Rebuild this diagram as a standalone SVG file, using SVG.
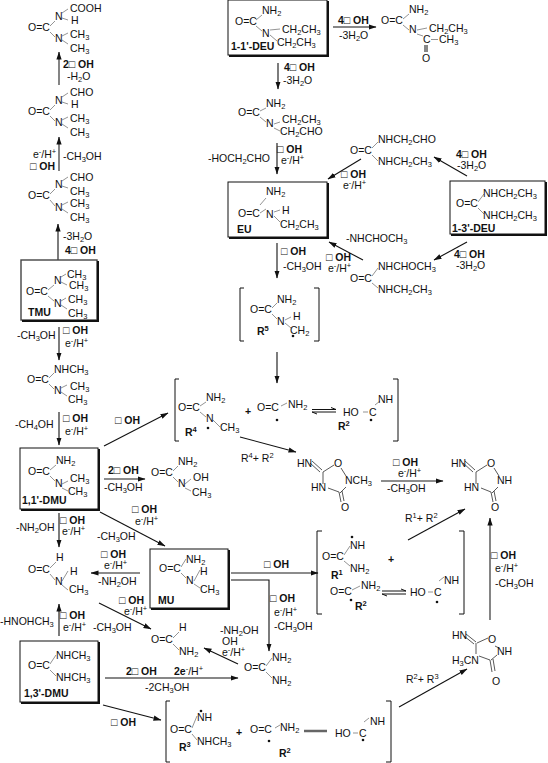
<svg xmlns="http://www.w3.org/2000/svg" width="548" height="763" viewBox="0 0 548 763">
<style>
text{font-family:"Liberation Sans",Arial,sans-serif;font-size:10.5px;fill:#111}
.B{font-weight:bold}
.s{font-size:7.5px;baseline-shift:-2.2px}
.u{font-size:7.5px;baseline-shift:3.6px}
.b{fill:none;stroke:#666;stroke-width:.7}
.k{fill:none;stroke:#111;stroke-width:1}
.a{fill:none;stroke:#111;stroke-width:1.1;marker-end:url(#h)}
.g{fill:none;stroke:#666;stroke-width:1.6;marker-end:url(#h2)}
.e{fill:none;stroke:#111;stroke-width:1}
.box{fill:#fff;stroke:#111;stroke-width:1}
.sh{fill:none;stroke:#111;stroke-width:2}
.d{fill:#111}
</style>
<defs>
<marker id="h" markerUnits="userSpaceOnUse" markerWidth="8" markerHeight="6" refX="7.5" refY="3" orient="auto"><path d="M0 .4L8 3L0 5.6z" fill="#111"/></marker>
<marker id="h2" markerUnits="userSpaceOnUse" markerWidth="8" markerHeight="6" refX="7.5" refY="3" orient="auto"><path d="M0 .4L8 3L0 5.6z" fill="#111"/></marker>
</defs>

<g id="connectors">
<path class="g" d="M59 85V52"/>
<path class="g" d="M59 171V137"/>
<path class="a" d="M58 260V224"/>
<path class="a" d="M59 327V360"/>
<path class="a" d="M59 412V445"/>
<path class="a" d="M104 446L168 413"/>
<path class="g" d="M104 479H145"/>
<path class="a" d="M100 512L165 546"/>
<path class="a" d="M59 513V547"/>
<path class="g" d="M140 573H91"/>
<path class="a" d="M99 603L151 629"/>
<path class="a" d="M59 636V604"/>
<path class="a" d="M105 678H238"/>
<path class="a" d="M103 705L161 720"/>
<path class="g" d="M231 573H318"/>
<path class="a" d="M231 580H269V651"/>
<path class="a" d="M238 664L204 648"/>
<path class="a" d="M408 540L465 509"/>
<path class="g" d="M490 620V518"/>
<path class="a" d="M399 707L467 669"/>
<path class="a" d="M333 27H376"/>
<path class="a" d="M278 63V89"/>
<path class="a" d="M277 143V174"/>
<path class="a" d="M361 159L328 179"/>
<path class="a" d="M467 176L434 157"/>
<path class="a" d="M363 260L329 242"/>
<path class="a" d="M467 242L434 260"/>
<path class="a" d="M277 243V278"/>
<path class="a" d="M277 352V383"/>
<path class="a" d="M240 437L296 452"/>
<path class="g" d="M381 481H443"/>
<path class="e" d="M312 409.5H336L331 407.5M336 412H312L317 414"/>
<path class="e" d="M382 591H406L401 589M406 594H382L387 596"/>
<path fill="none" stroke="#666" stroke-width="2.5" d="M304 731H327"/>
</g>

<g id="labels">
<text x="63" y="68" class="B">2□ OH</text><text x="67" y="80">-H<tspan class="s">2</tspan>O</text>
<text x="33" y="158">e<tspan class="u">-</tspan>/H<tspan class="u">+</tspan></text><text x="30" y="170" class="B">□ OH</text><text x="63" y="160">-CH<tspan class="s">3</tspan>OH</text>
<text x="63" y="240">-3H<tspan class="s">2</tspan>O</text><text x="65" y="254" class="B">4□ OH</text>
<text x="17" y="339">-CH<tspan class="s">3</tspan>OH</text><text x="63" y="334" class="B">□ OH</text><text x="65" y="347">e<tspan class="u">-</tspan>/H<tspan class="u">+</tspan></text>
<text x="15" y="428">-CH<tspan class="s">4</tspan>OH</text><text x="63" y="422" class="B">□ OH</text><text x="65" y="435">e<tspan class="u">-</tspan>/H<tspan class="u">+</tspan></text>
<text x="115" y="424" class="B">□ OH</text>
<text x="108" y="474" class="B">2□ OH</text><text x="104" y="491">-CH<tspan class="s">3</tspan>OH</text>
<text x="132" y="513" class="B">□ OH</text><text x="135" y="525">e<tspan class="u">-</tspan>/H<tspan class="u">+</tspan></text><text x="97" y="540">-CH<tspan class="s">3</tspan>OH</text>
<text x="16" y="531">-NH<tspan class="s">2</tspan>OH</text><text x="60" y="524" class="B">□ OH</text><text x="62" y="535">e<tspan class="u">-</tspan>/H<tspan class="u">+</tspan></text>
<text x="101" y="558" class="B">□ OH</text><text x="104" y="569">e<tspan class="u">-</tspan>/H<tspan class="u">+</tspan></text><text x="98" y="585">-NH<tspan class="s">2</tspan>OH</text>
<text x="119" y="604" class="B">□ OH</text><text x="124" y="615">e<tspan class="u">-</tspan>/H<tspan class="u">+</tspan></text><text x="93" y="631">-CH<tspan class="s">3</tspan>OH</text>
<text x="0" y="625">-HNOHCH<tspan class="s">3</tspan></text><text x="60" y="619" class="B">□ OH</text><text x="63" y="631">e<tspan class="u">-</tspan>/H<tspan class="u">+</tspan></text>
<text x="126" y="675" class="B">2□ OH</text><text x="174" y="675"><tspan class="B">2e</tspan><tspan class="u">-</tspan>/H<tspan class="u">+</tspan></text><text x="145" y="691">-2CH<tspan class="s">3</tspan>OH</text>
<text x="111" y="726" class="B">□ OH</text>
<text x="264" y="568" class="B">□ OH</text>
<text x="270" y="602" class="B">□ OH</text><text x="274" y="616">e<tspan class="u">-</tspan>/H<tspan class="u">+</tspan></text><text x="274" y="630">-CH<tspan class="s">3</tspan>OH</text>
<text x="220" y="634">-NH<tspan class="s">2</tspan>OH</text><text x="222" y="645">OH</text><text x="222" y="656">e<tspan class="u">-</tspan>/H<tspan class="u">+</tspan></text>
<text x="405" y="522">R<tspan class="u">1</tspan>+ R<tspan class="u">2</tspan></text>
<text x="491" y="559" class="B">□ OH</text><text x="495" y="572">e<tspan class="u">-</tspan>/H<tspan class="u">+</tspan></text><text x="495" y="587">-CH<tspan class="s">3</tspan>OH</text>
<text x="406" y="683">R<tspan class="u">2</tspan>+ R<tspan class="u">3</tspan></text>
<text x="241" y="462">R<tspan class="u">4</tspan>+ R<tspan class="u">2</tspan></text>
<text x="393" y="466" class="B">□ OH</text><text x="398" y="477">e<tspan class="u">-</tspan>/H<tspan class="u">+</tspan></text><text x="387" y="492">-CH<tspan class="s">3</tspan>OH</text>
<text x="338" y="24" class="B">4□ OH</text><text x="339" y="39">-3H<tspan class="s">2</tspan>O</text>
<text x="284" y="71" class="B">4□ OH</text><text x="283" y="84">-3H<tspan class="s">2</tspan>O</text>
<text x="277" y="153" class="B">□ OH</text><text x="281" y="164">e<tspan class="u">-</tspan>/H<tspan class="u">+</tspan></text><text x="208" y="162">-HOCH<tspan class="s">2</tspan>CHO</text>
<text x="341" y="178" class="B">□ OH</text><text x="343" y="189">e<tspan class="u">-</tspan>/H<tspan class="u">+</tspan></text>
<text x="456" y="158" class="B">4□ OH</text><text x="457" y="169">-3H<tspan class="s">2</tspan>O</text>
<text x="346" y="242">-NHCHOCH<tspan class="s">3</tspan></text>
<text x="454" y="258" class="B">4□ OH</text><text x="456" y="269">-3H<tspan class="s">2</tspan>O</text>
<text x="326" y="261" class="B">□ OH</text><text x="328" y="272">e<tspan class="u">-</tspan>/H<tspan class="u">+</tspan></text>
<text x="281" y="255" class="B">□ OH</text><text x="283" y="270">-CH<tspan class="s">3</tspan>OH</text>
</g>

<g id="n-cooh">
<path class="b" d="M50 26L55 21M50 32L55 37M62 13L68 9M62 18L68 20M62 36L68 33M62 40L68 44"/>
<text x="28" y="31">O=C</text><text x="55" y="20">N</text><text x="70" y="12">COOH</text><text x="71" y="24">H</text><text x="55" y="42">N</text><text x="70" y="38">CH<tspan class="s">3</tspan></text><text x="70" y="52">CH<tspan class="s">3</tspan></text>
</g>
<g id="n-cho-h">
<path class="b" d="M50 110L55 105M50 116L55 121M62 97L68 93M62 102L68 104M62 120L68 117M62 124L68 128"/>
<text x="28" y="115">O=C</text><text x="55" y="104">N</text><text x="70" y="96">CHO</text><text x="71" y="108">H</text><text x="55" y="126">N</text><text x="70" y="122">CH<tspan class="s">3</tspan></text><text x="70" y="136">CH<tspan class="s">3</tspan></text>
</g>
<g id="n-cho-me">
<path class="b" d="M50 194L55 189M50 200L55 206M62 181L68 177M62 186L68 188M62 205L68 202M62 209L68 213"/>
<text x="28" y="199">O=C</text><text x="55" y="188">N</text><text x="70" y="181">CHO</text><text x="70" y="195">CH<tspan class="s">3</tspan></text><text x="55" y="211">N</text><text x="70" y="207">CH<tspan class="s">3</tspan></text><text x="70" y="221">CH<tspan class="s">3</tspan></text>
</g>
<g id="n-tmu">
<rect class="box" x="21" y="260" width="76" height="60" style="stroke:#444;stroke-width:1.4"/>
<path class="sh" d="M98 261V321H22"/>
<path class="b" d="M48 290L54 285M48 296L54 301M61 277L66 274M61 282L67 285M61 301L66 298M61 305L67 309"/>
<text x="26" y="295">O=C</text><text x="54" y="284">N</text><text x="67" y="278">CH<tspan class="s">3</tspan></text><text x="69" y="289">CH<tspan class="s">3</tspan></text><text x="54" y="307">N</text><text x="68" y="303">CH<tspan class="s">3</tspan></text><text x="68" y="317">CH<tspan class="s">3</tspan></text><text x="28" y="316" class="B">TMU</text>
</g>
<g id="n-nhch3">
<path class="b" d="M49 378L54 373M49 384L54 389M61 388L67 385M61 392L67 396"/>
<text x="54" y="373">NHCH<tspan class="s">3</tspan></text><text x="27" y="383">O=C</text><text x="54" y="394">N</text><text x="70" y="390">CH<tspan class="s">3</tspan></text><text x="68" y="403">CH<tspan class="s">3</tspan></text>
</g>
<g id="n-11dmu">
<rect class="box" x="20" y="448" width="78" height="61"/>
<path class="sh" d="M99 449V510H21"/>
<path class="b" d="M50 470L56 465M50 476L55 481M62 484L68 481M62 488L68 491"/>
<text x="56" y="464">NH<tspan class="s">2</tspan></text><text x="28" y="475">O=C</text><text x="55" y="487">N</text><text x="70" y="482">CH<tspan class="s">3</tspan></text><text x="68" y="495">CH<tspan class="s">3</tspan></text><text x="22" y="504" class="B">1,1'-DMU</text>
</g>
<g id="n-oh">
<path class="b" d="M173 471L178 466M173 477L178 482M185 484L191 479M185 488L191 491"/>
<text x="151" y="476">O=C</text><text x="178" y="465">NH<tspan class="s">2</tspan></text><text x="178" y="487">N</text><text x="193" y="481">OH</text><text x="192" y="496">CH<tspan class="s">3</tspan></text>
</g>
<g id="n-r4r2">
<path class="k" d="M179 379H175V441H179M393 379H398V441H393"/>
<path class="b" d="M200 406L206 402M200 412L206 417M213 420L220 427M281 406L287 403M363 412H368M375 405L380 401"/>
<text x="178" y="411">O=C</text><text x="206" y="401">NH<tspan class="s">2</tspan></text><text x="206" y="422">N</text><circle class="d" cx="208" cy="428" r="1.3"/><text x="220" y="431">CH<tspan class="s">3</tspan></text><text x="185" y="436" class="B">R<tspan class="u">4</tspan></text>
<text x="245" y="415" class="B">+</text><text x="257" y="411">O=C</text><circle class="d" cx="277" cy="420" r="1.3"/><text x="288" y="408">NH<tspan class="s">2</tspan></text>
<text x="343" y="416">HO</text><text x="369" y="416">C</text><text x="378" y="403">NH</text><circle class="d" cx="371" cy="420" r="1.3"/><text x="338" y="430" class="B">R<tspan class="u">2</tspan></text>
</g>
<g id="n-ring1">
<path class="b" style="stroke:#111" d="M312 461L322 470M310 463L320 472M323 472L334 465M341 468L346 476M346 487L340 493M339 492L328 488M323 484V472M339 492L341 502M342 491L344 501"/>
<text x="297" y="467">HN</text><text x="334" y="467">O</text><text x="345" y="484">NCH<tspan class="s">3</tspan></text><text x="311" y="491">HN</text><text x="341" y="511">O</text>
</g>
<g id="n-ring2">
<path class="b" style="stroke:#111" d="M465 461L475 470M463 463L473 472M476 472L487 465M494 468L499 476M498 487L492 493M491 492L481 488M476 484V472M491 492L493 502M494 491L496 501"/>
<text x="451" y="467">HN</text><text x="487" y="467">O</text><text x="497" y="484">NH</text><text x="464" y="491">HN</text><text x="491" y="511">O</text>
</g>
<g id="n-11deu">
<rect class="box" x="228" y="0" width="99" height="55"/>
<path class="sh" d="M328 1V56H229"/>
<path class="b" d="M256 20L262 15M256 26L262 31M270 30L280 29M270 35L277 41"/>
<text x="235" y="25">O=C</text><text x="262" y="14">NH<tspan class="s">2</tspan></text><text x="262" y="37">N</text><text x="282" y="33">CH<tspan class="s">2</tspan>CH<tspan class="s">3</tspan></text><text x="277" y="46">CH<tspan class="s">2</tspan>CH<tspan class="s">3</tspan></text><text x="231" y="50" class="B">1-1'-DEU</text>
</g>
<g id="n-acyl">
<path class="b" d="M403 19L409 14M403 25L409 30M417 30L427 28M417 34L423 36M431 39.5H438"/>
<path class="k" d="M425 45V52M427 45V52"/>
<text x="381" y="24">O=C</text><text x="409" y="13">NH<tspan class="s">2</tspan></text><text x="409" y="33">N</text><text x="429" y="32">CH<tspan class="s">2</tspan>CH<tspan class="s">3</tspan></text><text x="423" y="43">C</text><text x="439" y="43">CH<tspan class="s">3</tspan></text><text x="422" y="62">O</text>
</g>
<g id="n-cho-et">
<path class="b" d="M260 111L266 108M260 117L266 122M274 124L280 122M274 128L280 131"/>
<text x="238" y="116">O=C</text><text x="266" y="107">NH<tspan class="s">2</tspan></text><text x="266" y="127">N</text><text x="282" y="123">CH<tspan class="s">2</tspan>CH<tspan class="s">3</tspan></text><text x="280" y="135">CH<tspan class="s">2</tspan>CHO</text>
</g>
<g id="n-eu">
<rect class="box" x="228" y="182" width="99" height="55"/>
<path class="sh" d="M328 183V238H229"/>
<path class="b" d="M260 205L266 198M260 213L266 209M274 212L280 210M274 216L280 222"/>
<text x="238" y="217">O=C</text><text x="266" y="195">NH<tspan class="s">2</tspan></text><text x="266" y="218">N</text><text x="282" y="214">H</text><text x="280" y="228">CH<tspan class="s">2</tspan>CH<tspan class="s">3</tspan></text><text x="237" y="233" class="B">EU</text>
</g>
<g id="n-cho-nh">
<path class="b" d="M372 148L378 142M372 155L378 161"/>
<text x="350" y="154">O=C</text><text x="378" y="143">NHCH<tspan class="s">2</tspan>CHO</text><text x="378" y="165">NHCH<tspan class="s">2</tspan>CH<tspan class="s">3</tspan></text>
</g>
<g id="n-13deu">
<rect class="box" x="450" y="181" width="95" height="53"/>
<path class="sh" d="M546 182V235H451"/>
<path class="b" d="M478 202L484 194M478 208L484 214"/>
<text x="456" y="207">O=C</text><text x="483" y="197">NHCH<tspan class="s">2</tspan>CH<tspan class="s">3</tspan></text><text x="483" y="219">NHCH<tspan class="s">2</tspan>CH<tspan class="s">3</tspan></text><text x="452" y="232" class="B">1-3'-DEU</text>
</g>
<g id="n-choch">
<path class="b" d="M372 276L378 268M372 283L378 288"/>
<text x="350" y="282">O=C</text><text x="378" y="270">NHCHOCH<tspan class="s">3</tspan></text><text x="378" y="293">NHCH<tspan class="s">2</tspan>CH<tspan class="s">3</tspan></text>
</g>
<g id="n-r5">
<path class="k" d="M244 288H240V341H244M314 288H319V341H314"/>
<path class="b" d="M272 308L277 303M272 314L277 319M285 320L291 317M285 323L291 328"/>
<text x="250" y="313">O=C</text><text x="277" y="303">NH<tspan class="s">2</tspan></text><text x="277" y="325">N</text><text x="293" y="320">H</text><text x="290" y="334">CH<tspan class="s">2</tspan></text><circle class="d" cx="293" cy="336" r="1.3"/><text x="257" y="335" class="B">R<tspan class="u">5</tspan></text>
</g>
<g id="n-mu">
<rect class="box" x="150" y="549" width="78" height="59"/>
<path class="sh" d="M229 550V609H151"/>
<path class="b" d="M181 567L186 559M181 573L186 578M194 581L200 570M194 584L200 588"/>
<text x="159" y="572">O=C</text><text x="186" y="563">NH<tspan class="s">2</tspan></text><text x="186" y="584">N</text><text x="200" y="575">H</text><text x="200" y="593">CH<tspan class="s">3</tspan></text><text x="158" y="604" class="B">MU</text>
</g>
<g id="n-formyl">
<path class="b" d="M50 568L56 562M50 574L55 580M62 581L68 571M62 585L68 590"/>
<text x="28" y="573">O=C</text><text x="56" y="561">H</text><text x="55" y="585">N</text><text x="70" y="575">H</text><text x="69" y="593">CH<tspan class="s">3</tspan></text>
</g>
<g id="n-formamide">
<path class="b" d="M173 638L179 632M173 644L179 650"/>
<text x="151" y="643">O=C</text><text x="179" y="631">H</text><text x="179" y="655">NH<tspan class="s">2</tspan></text>
</g>
<g id="n-13dmu">
<rect class="box" x="20" y="641" width="78" height="61"/>
<path class="sh" d="M99 642V703H21"/>
<path class="b" d="M50 664L56 655M50 670L56 676"/>
<text x="28" y="669">O=C</text><text x="56" y="659">NHCH<tspan class="s">3</tspan></text><text x="56" y="681">NHCH<tspan class="s">3</tspan></text><text x="24" y="697" class="B">1,3'-DMU</text>
</g>
<g id="n-urea">
<path class="b" d="M266 666L272 658M266 672L272 678"/>
<text x="244" y="671">O=C</text><text x="272" y="661">NH<tspan class="s">2</tspan></text><text x="272" y="684">NH<tspan class="s">2</tspan></text>
</g>
<g id="n-r1r2">
<path class="k" d="M322 531H317V614H322M459 531H464V614H459"/>
<path class="b" d="M344 555L350 546M344 561L350 566M352 590L360 586M428 592H433M439 581L444 577"/>
<circle class="d" cx="352" cy="537" r="1.3"/><text x="350" y="549">NH</text><text x="322" y="560">O=C</text><text x="350" y="572">NH<tspan class="s">2</tspan></text><text x="331" y="579" class="B">R<tspan class="u">1</tspan></text><text x="388" y="563" class="B">+</text>
<text x="330" y="595">O=C</text><circle class="d" cx="351" cy="600" r="1.3"/><text x="361" y="589">NH<tspan class="s">2</tspan></text><text x="355" y="610" class="B">R<tspan class="u">2</tspan></text>
<text x="410" y="596">HO</text><text x="434" y="596">C</text><text x="444" y="584">NH</text><circle class="d" cx="437" cy="602" r="1.3"/>
</g>
<g id="n-ring3">
<path class="b" style="stroke:#111" d="M466 634L476 642M464 636L474 644M477 643L488 638M495 646L499 648M497 655L491 660M490 660L479 656M476 654V643M490 660L492 672M493 659L495 671"/>
<text x="452" y="639">HN</text><text x="488" y="643">O</text><text x="497" y="655">NH</text><text x="452" y="664">H<tspan class="s">3</tspan>CN</text><text x="492" y="685">O</text>
</g>
<g id="n-r3r2">
<path class="k" d="M170 701H166V762H170M386 701H391V762H386"/>
<path class="b" d="M192 728L197 716M192 734L197 740M275 728L280 725M353 733H358M364 722L369 718"/>
<circle class="d" cx="201" cy="711" r="1.3"/><text x="197" y="721">NH</text><text x="170" y="733">O=C</text><text x="197" y="745">NHCH<tspan class="s">3</tspan></text><text x="179" y="751" class="B">R<tspan class="u">3</tspan></text><text x="236" y="736" class="B">+</text>
<text x="250" y="733">O=C</text><circle class="d" cx="269" cy="741" r="1.3"/><text x="280" y="731">NH<tspan class="s">2</tspan></text><text x="279" y="757" class="B">R<tspan class="u">2</tspan></text>
<text x="335" y="737">HO</text><text x="359" y="737">C</text><text x="370" y="725">NH</text><circle class="d" cx="363" cy="740" r="1.3"/>
</g>
</svg>
